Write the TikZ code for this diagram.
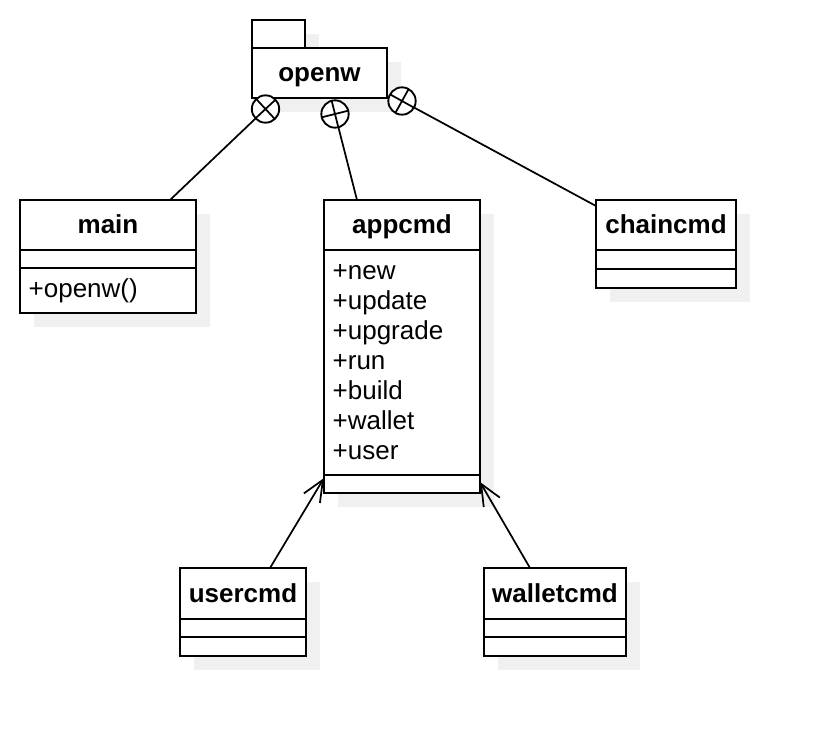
\documentclass[tikz,border=0pt]{standalone}
\usepackage{fontspec}
\setmainfont{Liberation Sans}
\usetikzlibrary{positioning,shadows,arrows.meta}

\tikzset{
  box/.style={draw, line width=1.5pt, fill=white, inner sep=0pt, outer sep=0pt,
    anchor=north west, font=\fontsize{19.5}{22.5}\selectfont,
    drop shadow={shadow xshift=10.5pt, shadow yshift=-10.5pt, fill=black!6, opacity=1}},
  title/.style={box, font=\fontsize{19.5}{22.5}\selectfont\bfseries, minimum height=37.5pt,
    text height=15pt, text depth=2pt},
  slot/.style={box, minimum height=13.5pt},
  nest/.style={circle, draw, line width=1.4pt, fill=white, outer sep=0pt,
    minimum size=20.5pt, inner sep=0pt},
  link/.style={line width=1.3pt},
  uses/.style={link, -{Straight Barb[length=16pt,width=14pt]}}
}

\begin{document}
\begin{tikzpicture}[x=0.75pt,y=-0.75pt]
  \useasboundingbox (0,0) rectangle (816,736);
  % package
  \node[box, minimum width=39.75pt, minimum height=21pt] (tab) at (252,20) {};
  \node[title, minimum width=101.25pt] (openw) at (252,48) {openw};
  % main
  \node[title, minimum width=132pt] (main) at (20,200) {main};
  \node[slot, minimum width=132pt, below=0pt of main] (main-att) {};
  \node[slot, below=0pt of main-att, minimum height=33.75pt,
    inner xsep=6.5pt, text width=119pt, align=left] (main-op) {+openw()};
  % appcmd
  \node[title, minimum width=117pt] (appcmd) at (324,200) {appcmd};
  \node[slot, below=0pt of appcmd, minimum height=168.75pt,
    inner xsep=6.5pt, text width=104pt, align=left] (appcmd-att)
    {+new\\+update\\+upgrade\\+run\\+build\\+wallet\\+user};
  \node[slot, minimum width=117pt, below=0pt of appcmd-att] (appcmd-op) {};
  % chaincmd
  \node[title, minimum width=105pt] (chaincmd) at (596,200) {chaincmd};
  \node[slot, minimum width=105pt, minimum height=14.25pt, below=0pt of chaincmd] (chaincmd-att) {};
  \node[slot, minimum width=105pt, minimum height=14.25pt, below=0pt of chaincmd-att] (chaincmd-op) {};
  % usercmd
  \node[title, minimum width=94.5pt, minimum height=38.25pt] (usercmd) at (180,568) {usercmd};
  \node[slot, minimum width=94.5pt, below=0pt of usercmd] (usercmd-att) {};
  \node[slot, minimum width=94.5pt, minimum height=14.25pt, below=0pt of usercmd-att] (usercmd-op) {};
  % walletcmd
  \node[title, minimum width=106.5pt, minimum height=38.25pt] (walletcmd) at (484,568) {walletcmd};
  \node[slot, minimum width=106.5pt, below=0pt of walletcmd] (walletcmd-att) {};
  \node[slot, minimum width=106.5pt, minimum height=14.25pt, below=0pt of walletcmd-att] (walletcmd-op) {};

  % nesting
  \node[nest] (n1) at (265.5,109) {};
  \node[nest] (n2) at (335,114) {};
  \node[nest] (n3) at (402,101) {};
  \draw[link] (n1.43.6) -- (n1.223.6) (n1.133.6) -- (n1.313.6);
  \draw[link] (n2.104.35) -- (n2.284.35) (n2.14.35) -- (n2.194.35);
  \draw[link] (n3.151.6) -- (n3.331.6) (n3.61.6) -- (n3.241.6);
  \draw[link] (n1) -- ([xshift=46.5pt]main.north);
  \draw[link] (n2) -- ([xshift=-33.75pt]appcmd.north);
  \draw[link] (n3) -- ([yshift=-4.5pt]chaincmd.north west);

  % dependencies
  \draw[uses] ([xshift=20.25pt]usercmd.north) -- ([yshift=-2.25pt]appcmd-op.north west);
  \draw[uses] ([xshift=-18.75pt]walletcmd.north) -- ([yshift=-5.25pt]appcmd-op.north east);
\end{tikzpicture}
\end{document}
